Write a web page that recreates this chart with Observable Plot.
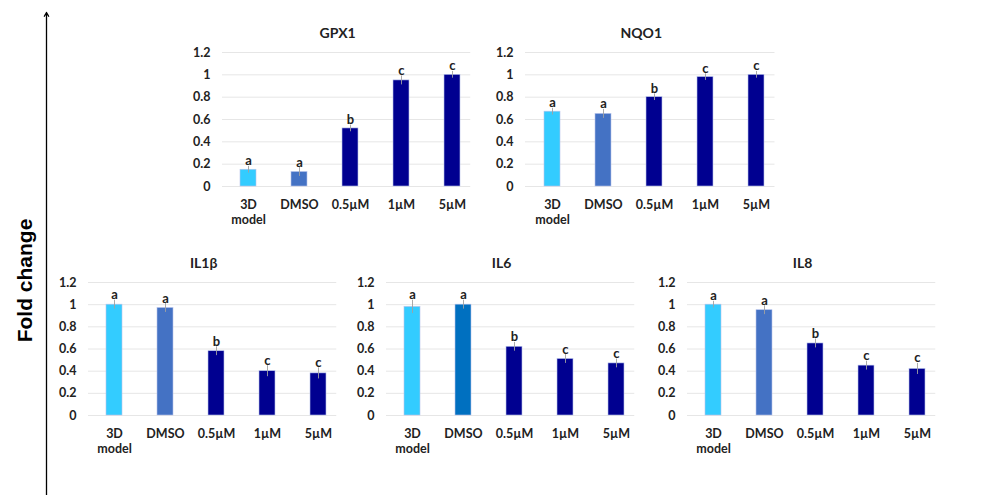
<!DOCTYPE html>
<html>
<head>
<meta charset="utf-8">
<script src="https://cdn.jsdelivr.net/npm/d3@7"></script>
<script src="https://cdn.jsdelivr.net/npm/@observablehq/plot@0.6"></script>
<style>
  html, body { margin: 0; padding: 0; background: #fff; }
  #root { position: relative; width: 995px; height: 495px; overflow: hidden; }
  #root > div { position: absolute; }
  svg { max-width: none !important; }
</style>
</head>
<body>
<div id="root"></div>
<script>
// ---- data ----
const categories = ["3D\nmodel", "DMSO", "0.5µM", "1µM", "5µM"];
const letters = ["a", "a", "b", "c", "c"];
const yTicks = [0, 0.2, 0.4, 0.6, 0.8, 1, 1.2];

const gpx1 = [0.15, 0.13, 0.52, 0.95, 1.0];
const gpx1Err = [0.03, 0.04, 0.03, 0.04, 0.03];
const nqo1 = [0.67, 0.65, 0.80, 0.98, 1.0];
const nqo1Err = [0.03, 0.04, 0.03, 0.03, 0.03];
const il1b = [1.0, 0.97, 0.58, 0.40, 0.38];
const il1bErr = [0.04, 0.04, 0.04, 0.05, 0.05];
const il6 = [0.98, 1.0, 0.62, 0.51, 0.47];
const il6Err = [0.06, 0.04, 0.04, 0.04, 0.04];
const il8 = [1.0, 0.95, 0.65, 0.45, 0.42];
const il8Err = [0.03, 0.04, 0.04, 0.04, 0.05];

// ---- styles ----
const cLight = "#33CCFF", cDmso = "#4472C4", cDmso2 = "#0070C0", cTreat = "#000090";
const colorsA = [cLight, cDmso, cTreat, cTreat, cTreat];
const colorsB = [cLight, cDmso2, cTreat, cTreat, cTreat];
const font = "Lato, 'Open Sans', 'Liberation Sans', sans-serif";

const panels = [
  {title: "GPX1", values: gpx1, errors: gpx1Err, colors: colorsA, gx: 222, gy: 52, step: 51.25, ph: 134},
  {title: "NQO1", values: nqo1, errors: nqo1Err, colors: colorsA, gx: 525, gy: 52, step: 51.5, ph: 134},
  {title: "IL1β", values: il1b, errors: il1bErr, colors: colorsA, gx: 88, gy: 282, step: 51.25, ph: 133},
  {title: "IL6", values: il6, errors: il6Err, colors: colorsB, gx: 386, gy: 282, step: 51.25, ph: 133},
  {title: "IL8", values: il8, errors: il8Err, colors: colorsA, gx: 687, gy: 282, step: 51.25, ph: 133}
];

const root = document.getElementById("root");

// background: vertical arrow axis and shared label
const bg = Plot.plot({
  width: 995, height: 495, margin: 0,
  x: {type: "identity", axis: null}, y: {type: "identity", axis: null},
  style: {background: "transparent", fontFamily: "'Liberation Sans', Arial, sans-serif"},
  marks: [
    Plot.arrow([0], {x1: 46, y1: 500, x2: 46, y2: 12, stroke: "#000", strokeWidth: 1.3, headLength: 5}),
    Plot.text(["Fold change"], {x: 25, y: 280, text: d => d, rotate: -90, fontSize: 21, fontWeight: "bold", fill: "#000"})
  ]
});
const bgDiv = document.createElement("div");
bgDiv.style.left = "0px"; bgDiv.style.top = "0px";
bgDiv.appendChild(bg);
root.appendChild(bgDiv);

const mL = 42, mT = 36, mR = 4, mB = 44;
for (const p of panels) {
  const data = categories.map((c, i) => ({cat: c, v: p.values[i], e: p.errors[i], sig: letters[i], color: p.colors[i]}));
  const width = mL + 5 * p.step + mR;
  const height = mT + p.ph + mB;
  const chart = Plot.plot({
    width, height,
    marginLeft: mL, marginTop: mT, marginRight: mR, marginBottom: mB,
    x: {domain: categories, paddingInner: 0.69, paddingOuter: 0.345, label: null},
    y: {domain: [0, 1.2], label: null},
    color: {type: "identity"},
    style: {background: "transparent", fontFamily: font, fontSize: "12px", fontWeight: "bold", color: "#222"},
    marks: [
      Plot.ruleY(yTicks, {stroke: "#e6e6e6", strokeWidth: 1, insetRight: 8}),
      Plot.barY(data, {x: "cat", y: "v", fill: "color", stroke: "#b8c4ec", strokeWidth: 0.6}),
      Plot.ruleX(data, {x: "cat", y1: d => d.v - d.e, y2: d => d.v + d.e, stroke: "#a0a0a0", strokeWidth: 0.9}),
      Plot.text(data, {x: "cat", y: d => d.v + d.e, text: "sig", lineAnchor: "bottom", dy: -1, fontSize: 13, fontWeight: "bold", fill: "#222"}),
      Plot.axisY({ticks: yTicks, tickSize: 0, tickPadding: 12, tickFormat: d => String(+d.toFixed(1)), fontSize: 12.5, fontWeight: "bold"}),
      Plot.axisX({tickSize: 0, tickPadding: 11, lineHeight: 1.25, fontSize: 12.5, fontWeight: "bold", label: null}),
      Plot.text([p.title], {frameAnchor: "top", lineAnchor: "middle", text: d => d, dy: -19, dx: -13, fontSize: 14, fontWeight: "bold", fill: "#222"})
    ]
  });
  const div = document.createElement("div");
  div.style.left = (p.gx - mL) + "px";
  div.style.top = (p.gy - mT) + "px";
  div.appendChild(chart);
  root.appendChild(div);
}
</script>
</body>
</html>
